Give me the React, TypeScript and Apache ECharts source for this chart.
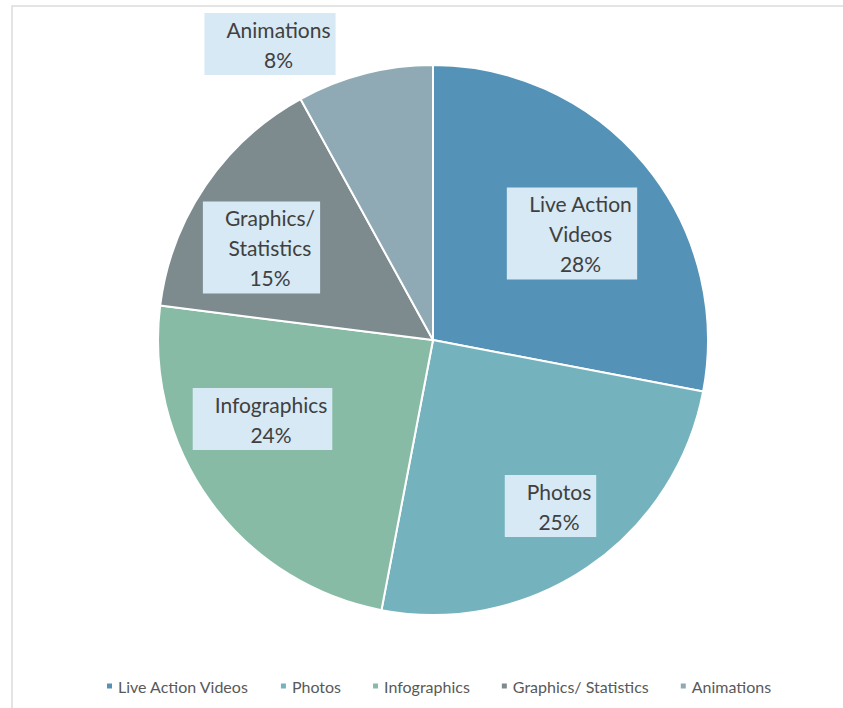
import React, { useEffect, useRef } from "react";
import * as echarts from "echarts";

const categories = ["Live Action Videos", "Photos", "Infographics", "Graphics/ Statistics", "Animations"];
const labelNames = ["Live Action\nVideos", "Photos", "Infographics", "Graphics/\nStatistics", "Animations"];
const values = [28, 25, 24, 15, 8];
const colors = ["#5592B8", "#74B3BE", "#88BBA5", "#7D8B8F", "#8FAAB4"];
// label box centres (layout only)
const labelCenters: [number, number][] = [
  [572, 233.5],
  [550.5, 506],
  [262.5, 419],
  [261.5, 247.5],
  [270, 44],
];

export default function App() {
  const ref = useRef<HTMLDivElement>(null);
  useEffect(() => {
    if (!ref.current) return;
    const chart = echarts.init(ref.current, null, { renderer: "svg" });
    chart.setOption({
      animation: false,
      backgroundColor: "#ffffff",
      color: colors,
      graphic: [
        {
          type: "rect",
          shape: { x: 12, y: 6, width: 900, height: 800 },
          style: { fill: "none", stroke: "#dcdcdc", lineWidth: 1.5 },
          silent: true,
        },
      ],
      legend: {
        bottom: 9,
        left: 100,
        icon: "rect",
        itemWidth: 7,
        itemHeight: 7,
        itemGap: 30,
        textStyle: { fontFamily: "Lato", fontSize: 16, color: "#595959" },
        data: categories,
      },
      series: [
        {
          type: "pie",
          center: [433, 340],
          radius: 275,
          startAngle: 90,
          clockwise: true,
          itemStyle: { borderColor: "#ffffff", borderWidth: 2 },
          label: {
            show: true,
            position: "inside",
            formatter: (p: any) => `${labelNames[p.dataIndex]}\n${values[p.dataIndex]}%`,
            fontFamily: "Lato",
            fontSize: 21,
            lineHeight: 30,
            color: "#404040",
            align: "center",
            backgroundColor: "#D6E9F4",
            padding: [1, 5, 1, 22],
          },
          labelLine: { show: false },
          labelLayout: (params: any) => {
            const c = labelCenters[params.dataIndex];
            return { x: c[0], y: c[1], align: "center", verticalAlign: "middle", hideOverlap: false };
          },
          emphasis: { disabled: true },
          data: categories.map((name, i) => ({ name, value: values[i] })),
        },
      ],
    });
    return () => chart.dispose();
  }, []);
  return (
    <div
      ref={ref}
      style={{ position: "fixed", left: 0, top: 0, width: 843, height: 708 }}
    />
  );
}
